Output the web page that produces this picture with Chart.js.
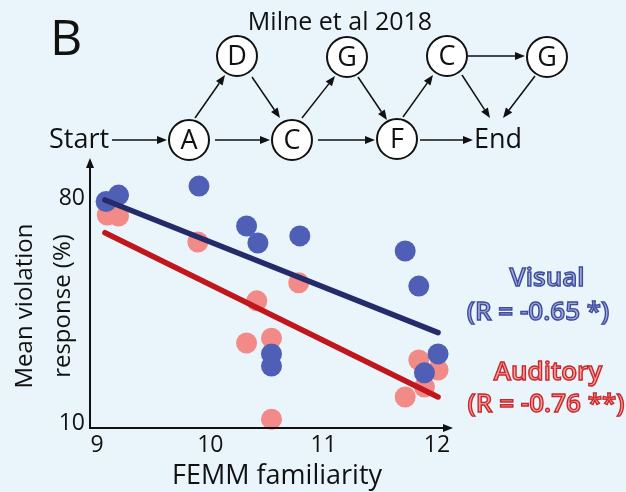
<!DOCTYPE html>
<html>
<head>
<meta charset="utf-8">
<script src="https://cdn.jsdelivr.net/npm/chart.js@4.4.1/dist/chart.umd.min.js"></script>
<style>
html, body { margin: 0; padding: 0; background: #e9f5fb; }
canvas { display: block; }
</style>
</head>
<body>
<canvas id="myChart" width="626" height="492"></canvas>
<script>
// axis ticks
const xTicks = [9, 10, 11, 12];
const yTicks = [10, 80];

// visual (blue) participants
const visualX = [9.08, 9.19, 9.90, 10.32, 10.42, 10.79, 11.72, 11.84, 12.01, 11.89, 10.54, 10.54];
const visualY = [78.9, 80.9, 83.7, 71.3, 66.0, 68.2, 63.5, 52.6, 31.5, 25.6, 31.5, 27.7];

// auditory (red) participants
const auditoryX = [9.09, 9.19, 9.89, 10.41, 10.32, 10.54, 10.78, 10.54, 11.84, 12.01, 11.89, 11.72];
const auditoryY = [74.7, 74.4, 66.3, 48.0, 34.9, 36.4, 53.6, 11.2, 29.6, 26.5, 21.2, 18.1];

// regression lines (end points)
const visualFitX = [9.07, 12.01];
const visualFitY = [79.4, 38.1];
const auditoryFitX = [9.07, 12.01];
const auditoryFitY = [69.2, 18.1];

const seriesNames = ["Visual", "Auditory"];
const seriesStats = ["(R = -0.65 *)", "(R = -0.76 **)"];

const FONT = "'Open Sans', sans-serif";
const pts = (xs, ys) => xs.map((x, i) => ({ x: x, y: ys[i] }));

function arrow(ctx, x1, y1, x2, y2) {
    const a = Math.atan2(y2 - y1, x2 - x1);
    const len = 10, w = 4;
    ctx.beginPath();
    ctx.moveTo(x1, y1);
    ctx.lineTo(x2 - len * Math.cos(a), y2 - len * Math.sin(a));
    ctx.stroke();
    ctx.beginPath();
    ctx.moveTo(x2, y2);
    ctx.lineTo(x2 - len * Math.cos(a) + w * Math.sin(a), y2 - len * Math.sin(a) - w * Math.cos(a));
    ctx.lineTo(x2 - len * Math.cos(a) - w * Math.sin(a), y2 - len * Math.sin(a) + w * Math.cos(a));
    ctx.closePath();
    ctx.fill();
}

const figurePlugin = {
    id: "figure",
    beforeDraw(chart) {
        const ctx = chart.ctx;
        ctx.save();
        ctx.fillStyle = "#e9f5fb";
        ctx.fillRect(0, 0, chart.width, chart.height);
        ctx.restore();
    },
    afterDraw(chart) {
        const ctx = chart.ctx;
        const a = chart.chartArea;
        ctx.save();
        ctx.fillStyle = "#111";
        ctx.strokeStyle = "#111";

        // axes with arrows
        ctx.lineWidth = 2;
        arrow(ctx, a.left, a.bottom + 1, a.left, a.top);
        arrow(ctx, a.left - 1, a.bottom, a.right, a.bottom);

        // panel letter and title
        ctx.textBaseline = "alphabetic";
        ctx.textAlign = "left";
        ctx.font = "50px " + FONT;
        ctx.fillText("B", 50, 55);
        ctx.textAlign = "center";
        ctx.font = "25px " + FONT;
        ctx.fillText("Milne et al 2018", 340, 30);

        // state diagram
        ctx.lineWidth = 1.5;
        const links = [
            [112, 140, 167, 140], [215, 140, 270, 140], [318, 140, 375, 140], [420, 140, 473, 140],
            [195, 118, 225, 75], [252, 77, 280, 118], [302, 118, 335, 76], [358, 77, 387, 120],
            [403, 117, 433, 75], [468, 56, 525, 56], [462, 75, 490, 118], [535, 76, 503, 118]
        ];
        links.forEach(l => arrow(ctx, l[0], l[1], l[2], l[3]));

        const nodes = [
            ["A", 189, 140], ["C", 292, 140], ["F", 397, 139],
            ["D", 237, 56], ["G", 347, 57], ["C", 447, 56], ["G", 547, 57]
        ];
        ctx.font = "27px " + FONT;
        ctx.textBaseline = "middle";
        nodes.forEach(n => {
            ctx.beginPath();
            ctx.arc(n[1], n[2], 20, 0, Math.PI * 2);
            ctx.fillStyle = "#fff";
            ctx.fill();
            ctx.lineWidth = 2;
            ctx.stroke();
            ctx.fillStyle = "#111";
            ctx.fillText(n[0], n[1], n[2] + 1);
        });
        ctx.textAlign = "left";
        ctx.fillText("Start", 49, 140);
        ctx.fillText("End", 474, 140);

        // axis titles
        ctx.textAlign = "center";
        ctx.font = "27px " + FONT;
        ctx.fillText("FEMM familiarity", 277, 476);
        ctx.font = "24px " + FONT;
        ctx.save();
        ctx.translate(25, 306);
        ctx.rotate(-Math.PI / 2);
        ctx.fillText("Mean violation", 0, 0);
        ctx.restore();
        ctx.save();
        ctx.translate(63, 306);
        ctx.rotate(-Math.PI / 2);
        ctx.fillText("response (%)", 0, 0);
        ctx.restore();

        // series labels (outlined text)
        ctx.font = "600 26px " + FONT;
        ctx.lineWidth = 1.4;
        const labelStyle = [["#a3aadc", "#3f4b9c", 279, 313, 547, 538], ["#f4a29e", "#c9272c", 373, 405, 548, 546]];
        labelStyle.forEach((s, i) => {
            ctx.fillStyle = s[0];
            ctx.strokeStyle = s[1];
            ctx.fillText(seriesNames[i], s[4], s[2]);
            ctx.strokeText(seriesNames[i], s[4], s[2]);
            ctx.fillText(seriesStats[i], s[5], s[3]);
            ctx.strokeText(seriesStats[i], s[5], s[3]);
        });
        ctx.restore();
    }
};

new Chart("myChart", {
    type: "scatter",
    data: {
        datasets: [
            {
                label: "Auditory",
                data: pts(auditoryX, auditoryY),
                backgroundColor: "#f28a88",
                borderWidth: 0,
                pointRadius: 10.5,
                order: 4,
                clip: false
            },
            {
                label: "Visual",
                data: pts(visualX, visualY),
                backgroundColor: "#4f5fb6",
                borderWidth: 0,
                pointRadius: 10.5,
                order: 3,
                clip: false
            },
            {
                type: "line",
                label: "Auditory fit",
                data: pts(auditoryFitX, auditoryFitY),
                borderColor: "#c0161c",
                borderWidth: 5.5,
                borderCapStyle: "round",
                pointRadius: 0,
                order: 2
            },
            {
                type: "line",
                label: "Visual fit",
                data: pts(visualFitX, visualFitY),
                borderColor: "#252a6b",
                borderWidth: 5.5,
                borderCapStyle: "round",
                pointRadius: 0,
                order: 1
            }
        ]
    },
    options: {
        responsive: false,
        animation: false,
        events: [],
        layout: { padding: { left: 0, right: 173, top: 158, bottom: 0 } },
        scales: {
            x: {
                type: "linear",
                min: 8.938,
                max: 12.142,
                grid: { display: false, drawTicks: false },
                border: { display: false },
                afterBuildTicks: s => { s.ticks = xTicks.map(v => ({ value: v })); },
                afterFit: s => { s.height = 64; },
                ticks: { color: "#111", padding: 4, font: { family: FONT, size: 23 } }
            },
            y: {
                min: 8.44,
                max: 92.45,
                grid: { display: false, drawTicks: false },
                border: { display: false },
                afterBuildTicks: s => { s.ticks = yTicks.map(v => ({ value: v })); },
                afterFit: s => { s.width = 90; },
                ticks: { color: "#111", padding: 5, font: { family: FONT, size: 23 } }
            }
        },
        plugins: {
            legend: { display: false },
            tooltip: { enabled: false }
        }
    },
    plugins: [figurePlugin]
});
</script>
</body>
</html>
